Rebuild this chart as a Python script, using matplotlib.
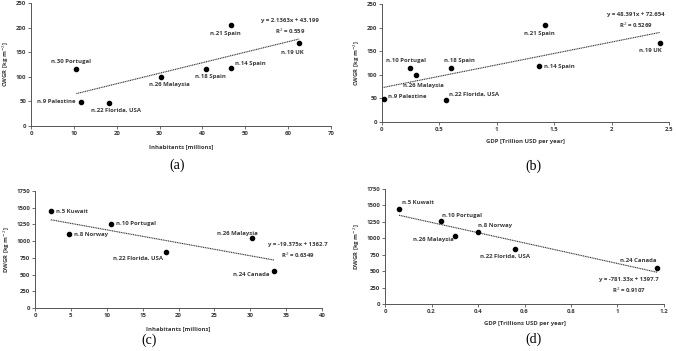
import numpy as np
import matplotlib.pyplot as plt

# ---- data ----
# (a) inhabitants vs CWGR
a_names = ["n.30 Portugal", "n.9 Palestine", "n.22 Florida, USA", "n.26 Malaysia",
           "n.18 Spain", "n.14 Spain", "n.21 Spain", "n.19 UK"]
a_x = [10.6, 11.7, 18.3, 30.4, 40.8, 46.6, 46.7, 62.6]
a_y = [115, 48, 47, 99, 115, 118, 206, 168]
a_fit = (2.1363, 43.199)
a_eq = "y = 2.1363x + 43.199\nR$^2$ = 0.559"

# (b) GDP vs CWGR
b_names = ["n.9 Palestine", "n.10 Portugal", "n.26 Malaysia", "n.22 Florida, USA",
           "n.18 Spain", "n.14 Spain", "n.21 Spain", "n.19 UK"]
b_x = [0.02, 0.24, 0.30, 0.56, 0.60, 1.37, 1.42, 2.42]
b_y = [49, 115, 99, 47, 115, 118, 206, 168]
b_fit = (48.391, 72.654)
b_eq = "y = 48.391x + 72.654\nR$^2$ = 0.5269"

# (c) inhabitants vs DWGR
c_names = ["n.5 Kuwait", "n.8 Norway", "n.10 Portugal", "n.22 Florida, USA",
           "n.26 Malaysia", "n.24 Canada"]
c_x = [2.2, 4.7, 10.6, 18.3, 30.3, 33.3]
c_y = [1450, 1100, 1260, 840, 1040, 550]
c_fit = (-19.375, 1362.7)
c_eq = "y = -19.375x + 1362.7\nR$^2$ = 0.6349"

# (d) GDP vs DWGR
d_names = ["n.5 Kuwait", "n.10 Portugal", "n.26 Malaysia", "n.8 Norway",
           "n.22 Florida, USA", "n.24 Canada"]
d_x = [0.06, 0.24, 0.30, 0.40, 0.56, 1.17]
d_y = [1450, 1260, 1040, 1100, 840, 550]
d_fit = (-781.33, 1397.7)
d_eq = "y = -781.33x + 1397.7\nR$^2$ = 0.9107"

# label offsets in pixels (dx, dy, ha) -- layout only
a_off = [(-5, 8, 'center'), (-6, 1, 'right'), (7, -7, 'center'), (8, -7, 'center'),
         (5, -7, 'center'), (4, 4, 'left'), (-6, -9, 'center'), (-7, -9, 'center')]
b_off = [(4, 2, 'left'), (-4, 7, 'center'), (7, -10, 'center'), (3, 5, 'left'),
         (9, 7, 'center'), (5, 0, 'left'), (-6, -9, 'center'), (-9, -8, 'center')]
c_off = [(5, 0, 'left'), (5, 0, 'left'), (5, 0, 'left'), (-3, -6, 'right'),
         (-15, 5, 'center'), (-4, -3, 'right')]
d_off = [(3, 6, 'left'), (1, 6, 'left'), (-1, -4, 'right'), (0, 6, 'left'),
         (-10, -8, 'center'), (-1, 7, 'right')]

plt.rcParams['font.family'] = ['Open Sans', 'DejaVu Sans']
txt_col = '#3a3a3a'
fs = 4.3

fig = plt.figure(figsize=(6.76, 3.51), dpi=100)


def panel(rect, xs, ys, names, offs, fit, eq, eq_pos, xlim, xticks, xtl, ylim, yticks,
          xlabel, ylabel, tag, tag_pos, xlab_y):
    ax = fig.add_axes(rect)
    ax.scatter(xs, ys, s=9, color='black', zorder=3)
    xf = np.array([min(xs), max(xs)])
    if fit is b_fit:
        xf[0] = 0
    ax.plot(xf, fit[0] * xf + fit[1], ls=(0, (1, 0.6)), color='#333333', lw=0.8)
    for n, x, y, (dx, dy, ha) in zip(names, xs, ys, offs):
        ax.annotate(n, (x, y), xytext=(dx, dy), textcoords='offset pixels',
                    ha=ha, va='center', fontsize=fs, fontweight='bold', color=txt_col)
    fig.text(eq_pos[0] / 676, 1 - eq_pos[1] / 351, eq, ha='center', va='center',
             fontsize=fs, fontweight='bold', color=txt_col, linespacing=1.4)
    ax.set_xlim(*xlim)
    ax.set_ylim(*ylim)
    ax.set_xticks(xticks)
    ax.set_xticklabels(xtl)
    ax.set_yticks(yticks)
    for s in ['top', 'right']:
        ax.spines[s].set_visible(False)
    for s in ['left', 'bottom']:
        ax.spines[s].set_color('#555555')
        ax.spines[s].set_linewidth(0.7)
    ax.tick_params(length=2, width=0.6, color='#555555', labelsize=fs, pad=1.5,
                   labelcolor=txt_col)
    for lab in ax.get_xticklabels() + ax.get_yticklabels():
        lab.set_fontweight('bold')
    ax.set_ylabel(ylabel, fontsize=fs, fontweight='bold', color=txt_col, labelpad=3)
    fig.text((rect[0] + rect[2] / 2), 1 - xlab_y / 351, xlabel, ha='center', va='center',
             fontsize=fs, fontweight='bold', color=txt_col)
    fig.text(tag_pos[0] / 676, 1 - tag_pos[1] / 351, tag, ha='center', va='center',
             fontsize=10, family='Liberation Serif')
    return ax


panel([31 / 676, 1 - 126 / 351, 300 / 676, 123 / 351], a_x, a_y, a_names, a_off, a_fit,
      a_eq, (290, 27), (0, 70), range(0, 71, 10), [str(v) for v in range(0, 71, 10)],
      (0, 250), range(0, 251, 50), "Inhabitants [millions]", "CWGR [kg m$^{-2}$]",
      "(a)", (177, 165), 147)

panel([382 / 676, 1 - 122 / 351, 287 / 676, 118 / 351], b_x, b_y, b_names, b_off, b_fit,
      b_eq, (636, 21), (0, 2.5), [0, 0.5, 1, 1.5, 2, 2.5],
      ["0", "0.5", "1", "1.5", "2", "2.5"],
      (0, 250), range(0, 251, 50), "GDP [Trillion USD per year]", "CWGR [kg m$^{-2}$]",
      "(b)", (533, 166), 142)

panel([35 / 676, 1 - 308 / 351, 287 / 676, 117 / 351], c_x, c_y, c_names, c_off, c_fit,
      c_eq, (298, 251), (0, 40), range(0, 41, 5), [str(v) for v in range(0, 41, 5)],
      (0, 1750), range(0, 1751, 250), "Inhabitants [millions]", "DWGR [kg m$^{-2}$]",
      "(c)", (149, 340), 329)

panel([385 / 676, 1 - 304 / 351, 279 / 676, 115 / 351], d_x, d_y, d_names, d_off, d_fit,
      d_eq, (629, 286), (0, 1.2), [0, 0.2, 0.4, 0.6, 0.8, 1, 1.2],
      ["0", "0.2", "0.4", "0.6", "0.8", "1", "1.2"],
      (0, 1750), range(0, 1751, 250), "GDP [Trillions USD per year]", "DWGR [kg m$^{-2}$]",
      "(d)", (533, 339), 323)

fig.savefig("out.png", dpi=100)
